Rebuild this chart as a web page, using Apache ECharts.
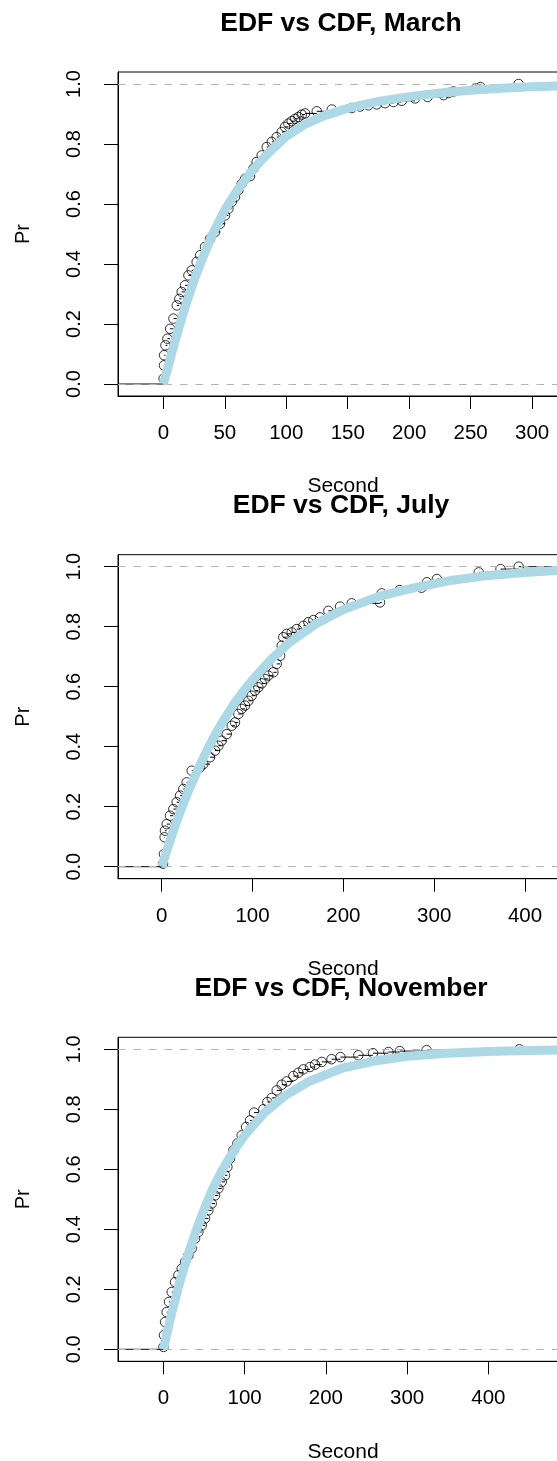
<!DOCTYPE html>
<html>
<head>
<meta charset="utf-8">
<script src="https://cdn.jsdelivr.net/npm/echarts@6/dist/echarts.min.js"></script>
<style>
  html, body { margin: 0; padding: 0; background: #fff; }
  #chart { width: 557px; height: 1461px; }
</style>
</head>
<body>
<div id="chart"></div>
<script>
// Empirical distribution (open circles) and fitted CDF (light blue) for three months.

const monthNames = ['March', 'July', 'November'];

// March
const marchEdfX = [0.2, 0.5, 0.6, 1.7, 3.3, 5.5, 8.2, 10.9, 13.0, 14.9, 17.6, 20.4, 23.1, 27.1, 29.9, 33.9, 38.0, 42.1, 46.1, 50.2, 52.9, 55.6, 58.3, 61.0, 63.8, 66.5, 70.5, 73.3, 75.9, 80.0, 84.1, 88.2, 92.2, 96.3, 99.0, 101.7, 104.4, 107.2, 109.9, 112.6, 115.3, 124.8, 137.0, 153.3, 160.0, 166.8, 173.6, 180.4, 187.2, 193.9, 204.8, 215, 228, 232, 236, 254, 258, 289];
const marchEdfY = [0.018, 0.062, 0.096, 0.129, 0.151, 0.184, 0.218, 0.262, 0.284, 0.307, 0.329, 0.362, 0.379, 0.407, 0.429, 0.457, 0.484, 0.507, 0.534, 0.562, 0.584, 0.607, 0.623, 0.646, 0.668, 0.684, 0.693, 0.718, 0.74, 0.762, 0.79, 0.807, 0.823, 0.84, 0.857, 0.868, 0.876, 0.884, 0.89, 0.898, 0.902, 0.909, 0.915, 0.92, 0.925, 0.929, 0.932, 0.936, 0.94, 0.944, 0.952, 0.957, 0.963, 0.97, 0.975, 0.985, 0.99, 1.0];
const marchCdfX = [0, 5, 10, 15, 20, 25, 30, 40, 50, 60, 70, 80, 90, 100, 115, 130, 150, 175, 200, 225, 250, 275, 300, 330];
const marchCdfY = [0, 0.075, 0.15, 0.22, 0.285, 0.345, 0.40, 0.50, 0.58, 0.645, 0.70, 0.747, 0.788, 0.826, 0.865, 0.893, 0.919, 0.942, 0.958, 0.97, 0.979, 0.986, 0.991, 0.994];
const marchTicks = [0, 50, 100, 150, 200, 250, 300];

// July
const julyEdfX = [1.5, 2.5, 3.2, 3.6, 5.5, 9.1, 12.8, 16.5, 20.2, 23.8, 27.5, 33.0, 42.2, 45.8, 53.2, 58.7, 62.4, 66.0, 71.6, 77.1, 80.7, 84.4, 88.1, 91.7, 95.4, 99.1, 102.8, 106.4, 110.1, 113.8, 117.4, 122.9, 126.6, 130.3, 132.1, 133.9, 137.6, 143.1, 148.6, 156.0, 161.5, 167.0, 174.3, 183.5, 196.4, 209.2, 240.3, 242.2, 262, 286, 292, 303, 349, 373, 393];
const julyEdfY = [0.01, 0.042, 0.098, 0.12, 0.142, 0.17, 0.192, 0.215, 0.237, 0.259, 0.281, 0.32, 0.331, 0.342, 0.365, 0.387, 0.403, 0.42, 0.442, 0.47, 0.481, 0.509, 0.526, 0.537, 0.553, 0.57, 0.587, 0.598, 0.611, 0.626, 0.637, 0.648, 0.676, 0.703, 0.737, 0.765, 0.776, 0.781, 0.792, 0.803, 0.815, 0.822, 0.831, 0.853, 0.867, 0.878, 0.881, 0.911, 0.922, 0.93, 0.948, 0.959, 0.981, 0.992, 1.0];
const julyCdfX = [0, 5, 10, 15, 20, 30, 40, 50, 60, 70, 80, 90, 100, 120, 140, 170, 200, 240, 280, 320, 360, 400, 450];
const julyCdfY = [0, 0.047, 0.094, 0.138, 0.18, 0.256, 0.325, 0.388, 0.447, 0.497, 0.544, 0.585, 0.622, 0.69, 0.746, 0.81, 0.857, 0.902, 0.931, 0.955, 0.971, 0.981, 0.99];
const julyTicks = [0, 100, 200, 300, 400];

// November
const novEdfX = [0.1, 0.8, 2.1, 4.1, 7.0, 10.3, 14.4, 18.5, 22.6, 26.7, 30.8, 34.9, 39.0, 43.1, 47.2, 51.3, 55.4, 59.5, 63.6, 67.7, 71.8, 75.9, 78.8, 82.1, 86.2, 91.1, 96.4, 101.8, 106.7, 111.6, 123.1, 128.0, 133.4, 139.5, 145.7, 151.8, 160.0, 166.2, 172.3, 180.5, 186.7, 195, 207, 218, 240, 258, 277, 291, 324, 438];
const novEdfY = [0.008, 0.047, 0.091, 0.124, 0.158, 0.191, 0.224, 0.247, 0.269, 0.291, 0.313, 0.336, 0.369, 0.391, 0.413, 0.436, 0.463, 0.486, 0.513, 0.536, 0.558, 0.58, 0.608, 0.636, 0.663, 0.686, 0.713, 0.741, 0.763, 0.789, 0.8, 0.824, 0.838, 0.863, 0.882, 0.893, 0.911, 0.922, 0.933, 0.941, 0.949, 0.958, 0.967, 0.974, 0.98, 0.987, 0.991, 0.994, 0.997, 1.0];
const novCdfX = [0, 5, 10, 15, 20, 30, 40, 50, 60, 70, 80, 90, 100, 125, 150, 180, 220, 260, 300, 350, 400, 450, 500];
const novCdfY = [0, 0.06, 0.118, 0.17, 0.222, 0.313, 0.393, 0.465, 0.53, 0.585, 0.632, 0.675, 0.713, 0.79, 0.846, 0.894, 0.937, 0.961, 0.977, 0.987, 0.993, 0.996, 0.998];
const novTicks = [0, 100, 200, 300, 400];

const yTicks = [0, 0.2, 0.4, 0.6, 0.8, 1.0];

// Panel layout
const FONT = '"Liberation Sans", Arial, Helvetica, sans-serif';
const panels = [
  { edfX: marchEdfX, edfY: marchEdfY, cdfX: marchCdfX, cdfY: marchCdfY, ticks: marchTicks, xMin: -36.9, xMax: 329.2, top: 72 },
  { edfX: julyEdfX, edfY: julyEdfY, cdfX: julyCdfX, cdfY: julyCdfY, ticks: julyTicks, xMin: -48.1, xMax: 447.3, top: 554.7 },
  { edfX: novEdfX, edfY: novEdfY, cdfX: novCdfX, cdfY: novCdfY, ticks: novTicks, xMin: -55.8, xMax: 498.0, top: 1037.3 }
];
const PLOT_LEFT = 118, PLOT_W = 450, PLOT_H = 324, TITLE_X = 341, TITLE_DY = -48.6;

const zip = (xs, ys) => xs.map((x, i) => [x, ys[i]]);

// Horizontal pieces of the step function: [from, level, to]
function stepSegments(p) {
  const segs = [[p.xMin, 0, p.edfX[0]]];
  for (let i = 0; i < p.edfX.length; i++) {
    const next = i + 1 < p.edfX.length ? p.edfX[i + 1] : p.xMax;
    segs.push([p.edfX[i], p.edfY[i], next]);
  }
  return segs;
}

const grid = [], xAxis = [], yAxis = [], series = [], graphic = [];

panels.forEach((p, k) => {
  grid.push({
    left: PLOT_LEFT, top: p.top, width: PLOT_W, height: PLOT_H,
    containLabel: false, outerBoundsMode: 'none',
    show: true, borderColor: '#000', borderWidth: 1, backgroundColor: 'transparent'
  });
  xAxis.push({
    type: 'value', gridIndex: k, min: p.xMin, max: p.xMax,
    name: 'Second', nameLocation: 'middle', nameGap: 80, nameMoveOverlap: false,
    nameTextStyle: { color: '#000', fontSize: 21, fontFamily: FONT },
    axisLine: { show: true, onZero: false, lineStyle: { color: '#000', width: 1 } },
    axisTick: { show: true, inside: false, length: 13, customValues: p.ticks, lineStyle: { color: '#000', width: 1 } },
    axisLabel: { show: true, inside: false, customValues: p.ticks, margin: 27, hideOverlap: false,
                 color: '#000', fontSize: 20.5, fontFamily: FONT },
    splitLine: { show: false }
  });
  yAxis.push({
    type: 'value', gridIndex: k, min: -0.04, max: 1.04,
    name: 'Pr', nameLocation: 'middle', nameGap: 85, nameRotate: 90, nameMoveOverlap: false,
    nameTextStyle: { color: '#000', fontSize: 20, fontFamily: FONT },
    axisLine: { show: true, onZero: false, lineStyle: { color: '#000', width: 1 } },
    axisTick: { show: true, inside: false, length: 14, customValues: yTicks, lineStyle: { color: '#000', width: 1 } },
    axisLabel: {
      show: true, inside: false, customValues: yTicks, rotate: 90, margin: 34, color: '#000', fontSize: 20, fontFamily: FONT,
      formatter: v => v.toFixed(1)
    },
    splitLine: { show: false }
  });

  // step lines of the empirical distribution
  series.push({
    type: 'custom', xAxisIndex: k, yAxisIndex: k, z: 2, clip: true, silent: true,
    data: stepSegments(p),
    renderItem: (params, api) => {
      const a = api.coord([api.value(0), api.value(1)]);
      const b = api.coord([api.value(2), api.value(1)]);
      return { type: 'line', shape: { x1: a[0], y1: a[1], x2: b[0], y2: b[1] },
               style: { stroke: '#000', lineWidth: 1 } };
    }
  });
  // observation circles, with the 0/1 reference lines
  series.push({
    type: 'scatter', xAxisIndex: k, yAxisIndex: k, z: 3, silent: true,
    data: zip(p.edfX, p.edfY),
    symbol: 'circle', symbolSize: 9.5,
    itemStyle: { color: 'rgba(0,0,0,0)', borderColor: '#000', borderWidth: 1 },
    markLine: {
      silent: true, symbol: 'none', z: 4,
      label: { show: false },
      lineStyle: { color: '#b3b3b3', width: 1, type: [7.5, 8] },
      emphasis: { disabled: true },
      data: [{ yAxis: 0 }, { yAxis: 1 }]
    }
  });
  // fitted CDF
  series.push({
    type: 'line', xAxisIndex: k, yAxisIndex: k, z: 6, silent: true,
    data: zip(p.cdfX, p.cdfY),
    smooth: false, showSymbol: false, symbol: 'none',
    lineStyle: { color: '#add8e6', width: 9, join: 'round' }
  });

  graphic.push({
    type: 'text', x: TITLE_X, y: p.top + TITLE_DY,
    style: { text: 'EDF vs CDF, ' + monthNames[k], font: 'bold 26.5px ' + FONT, fill: '#000',
             align: 'center', verticalAlign: 'middle' }
  });
});

const chart = echarts.init(document.getElementById('chart'), null, { renderer: 'canvas' });
chart.setOption({ animation: false, backgroundColor: '#fff', grid, xAxis, yAxis, series, graphic });
</script>
</body>
</html>
